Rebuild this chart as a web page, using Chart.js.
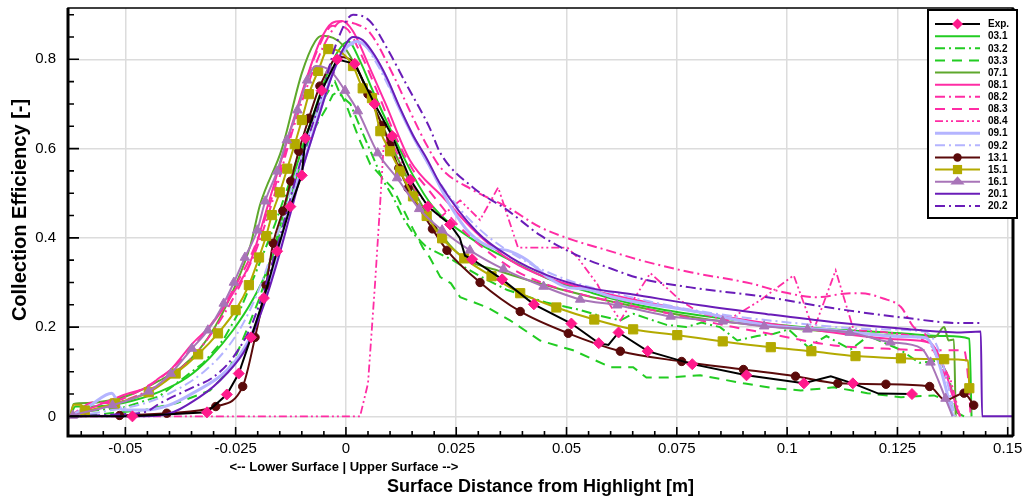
<!DOCTYPE html>
<html>
<head>
<meta charset="utf-8">
<script src="https://cdn.jsdelivr.net/npm/chart.js@4.4.1/dist/chart.umd.min.js"></script>
<style>
  html, body { margin: 0; padding: 0; background: #fff; }
</style>
</head>
<body>
<canvas id="chart" width="1026" height="498"></canvas>
<script>
// =============================
// DATA  (x = surface distance [m], y = collection efficiency)
// =============================
const xTicks = [-0.05, -0.025, 0, 0.025, 0.05, 0.075, 0.1, 0.125, 0.15];
const xTickLabels = ["-0.05", "-0.025", "0", "0.025", "0.05", "0.075", "0.1", "0.125", "0.15"];
const yTicks = [0, 0.2, 0.4, 0.6, 0.8];
const yTickLabels = ["0", "0.2", "0.4", "0.6", "0.8"];

const seriesLabels = ["Exp.", "03.1", "03.2", "03.3", "07.1", "08.1", "08.2", "08.3", "08.4",
                      "09.1", "09.2", "13.1", "15.1", "16.1", "20.1", "20.2"];

// third value = 1 where a marker is drawn
const expPts = [[-0.0625,0,0],[-0.0484,0,1],[-0.0315,0.009,1],[-0.027,0.049,1],[-0.0243,0.096,1],
  [-0.0215,0.177,1],[-0.0186,0.265,1],[-0.0156,0.37,1],[-0.0126,0.47,1],[-0.01,0.54,1],[-0.0092,0.623,1],
  [-0.0055,0.73,1],[-0.002,0.80,1],[0.002,0.79,1],[0.0065,0.70,1],[0.0105,0.628,1],[0.0146,0.53,1],
  [0.0186,0.47,1],[0.0236,0.43,1],[0.0258,0.40,0],[0.027,0.36,0],[0.0286,0.352,1],[0.032,0.33,0],
  [0.0354,0.307,1],[0.0426,0.251,1],[0.0511,0.208,1],[0.0573,0.164,1],[0.0595,0.16,0],[0.0618,0.188,1],
  [0.0684,0.146,1],[0.0785,0.117,1],[0.0908,0.092,1],[0.1038,0.074,1],[0.1099,0.09,0],[0.1149,0.074,1],
  [0.1207,0.051,0],[0.1283,0.05,1]];

const s031 = [[-0.0625,0],[-0.0613,0.022],[-0.058,0.022],[-0.0505,0.03],[-0.0423,0.055],[-0.036,0.087],
  [-0.0308,0.132],[-0.0256,0.193],[-0.0212,0.26],[-0.0179,0.327],[-0.0151,0.42],[-0.0127,0.511],
  [-0.0082,0.652],[-0.0043,0.765],[-0.0018,0.818],[0.0005,0.84],[0.0032,0.796],[0.0061,0.729],
  [0.0107,0.63],[0.0152,0.54],[0.0197,0.47],[0.028,0.401],[0.0372,0.35],[0.0457,0.309],[0.056,0.276],
  [0.066,0.25],[0.0803,0.226],[0.1031,0.2],[0.1258,0.186],[0.1361,0.18],[0.1413,0.174],[0.1418,0]];

const s032 = [[-0.0625,0],[-0.0604,0.01],[-0.0504,0.02],[-0.0423,0.045],[-0.0324,0.119],[-0.0279,0.17],
  [-0.024,0.238],[-0.0201,0.33],[-0.0161,0.43],[-0.0126,0.53],[-0.0098,0.617],[-0.0059,0.697],
  [-0.0036,0.735],[-0.0025,0.75],[-0.0012,0.72],[0.001,0.7],[0.004,0.63],[0.0084,0.529],[0.0107,0.491],
  [0.0129,0.446],[0.0152,0.41],[0.0183,0.379],[0.0242,0.35],[0.0302,0.315],[0.0366,0.283],[0.0454,0.255],
  [0.0524,0.24],[0.0577,0.225],[0.0622,0.215],[0.0651,0.23],[0.0681,0.22],[0.0727,0.205],[0.0771,0.2],
  [0.0806,0.21],[0.0848,0.2],[0.0887,0.17],[0.0932,0.18],[0.097,0.185],[0.1003,0.195],[0.1048,0.155],
  [0.1089,0.18],[0.1144,0.15],[0.1184,0.18],[0.122,0.165],[0.1255,0.15],[0.13,0.12],[0.1346,0.125],
  [0.1366,0.09],[0.1386,0]];

const s033 = [[-0.0625,0],[-0.0554,0.005],[-0.0454,0.015],[-0.0383,0.03],[-0.0308,0.058],[-0.0272,0.095],
  [-0.0247,0.141],[-0.0222,0.2],[-0.0195,0.267],[-0.0166,0.36],[-0.0146,0.42],[-0.0111,0.54],[-0.008,0.63],
  [-0.0045,0.69],[-0.003,0.72],[-0.0015,0.73],[0.0,0.7],[0.0015,0.66],[0.0032,0.617],[0.0055,0.565],
  [0.0078,0.54],[0.0107,0.51],[0.0129,0.466],[0.0152,0.42],[0.0175,0.377],[0.019,0.356],[0.0214,0.312],
  [0.0238,0.298],[0.0259,0.267],[0.0321,0.244],[0.0372,0.215],[0.044,0.17],[0.0515,0.148],[0.06,0.11],
  [0.0651,0.11],[0.0681,0.087],[0.0727,0.087],[0.0803,0.092],[0.0901,0.074],[0.097,0.063],[0.1031,0.058],
  [0.1106,0.065],[0.1182,0.052],[0.1258,0.043],[0.1333,0.047],[0.136,0.036],[0.1387,0.007],[0.1401,0]];

const s071 = [[-0.0625,0],[-0.0617,0.028],[-0.0585,0.03],[-0.054,0.035],[-0.0484,0.05],[-0.0423,0.08],
  [-0.0373,0.11],[-0.0332,0.15],[-0.0297,0.2],[-0.0252,0.29],[-0.0216,0.385],[-0.0195,0.473],[-0.0145,0.6],
  [-0.01,0.769],[-0.007,0.84],[-0.0054,0.853],[-0.0029,0.848],[-0.0007,0.832],[0.003,0.77],[0.007,0.68],
  [0.0121,0.57],[0.0186,0.45],[0.0259,0.361],[0.035,0.325],[0.0486,0.285],[0.0622,0.253],[0.0803,0.22],
  [0.1031,0.195],[0.1258,0.18],[0.1335,0.178],[0.1356,0.2],[0.1366,0.17],[0.1378,0.172],[0.1382,0]];

const s081 = [[-0.0625,0],[-0.0574,0.02],[-0.0497,0.05],[-0.0451,0.065],[-0.0422,0.087],[-0.0399,0.103],
  [-0.0347,0.164],[-0.0302,0.209],[-0.0256,0.276],[-0.0218,0.343],[-0.0179,0.466],[-0.015,0.563],
  [-0.012,0.661],[-0.0089,0.758],[-0.0059,0.84],[-0.0032,0.881],[-0.0009,0.886],[0.0016,0.863],[0.005,0.79],
  [0.009,0.7],[0.0145,0.574],[0.022,0.491],[0.0297,0.41],[0.0372,0.35],[0.0457,0.31],[0.056,0.282],
  [0.066,0.26],[0.0803,0.233],[0.1031,0.198],[0.1258,0.172],[0.1325,0.164],[0.1349,0.126],[0.1387,0.013],
  [0.1392,0]];

const s082 = [[-0.0625,0],[-0.0554,0.02],[-0.0454,0.055],[-0.0383,0.1],[-0.0332,0.15],[-0.0282,0.22],
  [-0.0242,0.29],[-0.0201,0.38],[-0.0161,0.5],[-0.0121,0.64],[-0.008,0.76],[-0.004,0.85],[-0.001,0.885],
  [0.002,0.88],[0.0054,0.86],[0.0107,0.765],[0.0145,0.684],[0.0183,0.608],[0.0214,0.558],[0.0288,0.507],
  [0.0366,0.469],[0.044,0.424],[0.0515,0.395],[0.0593,0.372],[0.0667,0.35],[0.0781,0.323],[0.0917,0.298],
  [0.0992,0.278],[0.1069,0.267],[0.1129,0.275],[0.1167,0.276],[0.1218,0.264],[0.1258,0.245],[0.1287,0.2],
  [0.131,0.188],[0.1332,0.148],[0.1365,0.074],[0.1387,0.013],[0.1392,0]];

const s083 = [[-0.0625,0],[-0.0604,0.015],[-0.0574,0.031],[-0.0544,0.03],[-0.0474,0.055],[-0.0403,0.1],
  [-0.0343,0.16],[-0.0292,0.225],[-0.0252,0.29],[-0.0211,0.37],[-0.0171,0.48],[-0.0136,0.6],[-0.01,0.72],
  [-0.0065,0.82],[-0.003,0.875],[0.0,0.87],[0.003,0.82],[0.007,0.73],[0.0116,0.62],[0.0152,0.552],
  [0.0183,0.513],[0.0252,0.43],[0.0372,0.334],[0.0448,0.298],[0.056,0.267],[0.0729,0.231],[0.0879,0.2],
  [0.0955,0.186],[0.1106,0.159],[0.1218,0.152],[0.1333,0.148],[0.1401,0.148],[0.1412,0.065],[0.1416,0]];

const s084 = [[-0.0628,0],[0.0032,0],[0.005,0.074],[0.0066,0.298],[0.0078,0.484],[0.0085,0.6],[0.0096,0.63],
  [0.0121,0.58],[0.0161,0.5],[0.0214,0.446],[0.0259,0.484],[0.0304,0.44],[0.0345,0.513],[0.039,0.378],
  [0.0462,0.378],[0.0502,0.378],[0.0524,0.357],[0.057,0.296],[0.0578,0.28],[0.0622,0.215],[0.069,0.321],
  [0.0758,0.26],[0.0803,0.231],[0.0865,0.215],[0.0939,0.26],[0.1015,0.316],[0.106,0.193],[0.111,0.327],
  [0.1151,0.193],[0.121,0.19],[0.129,0.18],[0.1331,0.16],[0.1371,0.08],[0.1392,0]];

const s091 = [[-0.0625,0],[-0.0579,0.025],[-0.0531,0.052],[-0.0507,0.015],[-0.0454,0.014],[-0.0401,0.025],
  [-0.0347,0.052],[-0.027,0.103],[-0.0224,0.164],[-0.0195,0.231],[-0.0166,0.33],[-0.0131,0.46],[-0.0095,0.57],
  [-0.006,0.68],[-0.003,0.77],[0.0,0.825],[0.0025,0.84],[0.005,0.825],[0.0086,0.77],[0.0121,0.69],
  [0.0156,0.62],[0.019,0.56],[0.0236,0.473],[0.0281,0.41],[0.0333,0.377],[0.0366,0.372],[0.0411,0.35],
  [0.0457,0.312],[0.0502,0.289],[0.0547,0.285],[0.0606,0.267],[0.0803,0.233],[0.0955,0.204],[0.1106,0.193],
  [0.1258,0.179],[0.1314,0.176],[0.1339,0.135],[0.1376,0]];

const s092 = [[-0.0625,0],[-0.0554,0.01],[-0.0454,0.03],[-0.0383,0.06],[-0.0322,0.1],[-0.0272,0.15],
  [-0.0232,0.21],[-0.0191,0.3],[-0.0151,0.42],[-0.0111,0.55],[-0.007,0.67],[-0.003,0.78],[0.0005,0.83],
  [0.0035,0.835],[0.007,0.79],[0.0111,0.71],[0.0161,0.61],[0.0222,0.51],[0.0302,0.42],[0.0403,0.35],
  [0.0504,0.305],[0.0655,0.265],[0.0806,0.235],[0.1008,0.21],[0.121,0.195],[0.131,0.19],[0.1343,0.15],
  [0.1381,0]];

const s131 = [[-0.0615,0,0],[-0.0513,0.002,1],[-0.0406,0.007,1],[-0.0295,0.022,1],[-0.0234,0.067,1],
  [-0.0206,0.177,1],[-0.0181,0.294,1],[-0.0165,0.388,1],[-0.0143,0.46,1],[-0.0125,0.527,1],[-0.0107,0.594,1],
  [-0.0084,0.668,1],[-0.0059,0.74,1],[-0.0015,0.805,0],[0.002,0.79,0],[0.005,0.722,1],[0.0082,0.652,1],
  [0.01,0.608,1],[0.012,0.556,1],[0.0141,0.511,1],[0.0196,0.42,1],[0.0229,0.372,1],[0.0304,0.30,1],
  [0.0395,0.235,1],[0.0504,0.186,1],[0.0622,0.146,1],[0.0761,0.123,1],[0.0901,0.105,1],[0.1019,0.09,1],
  [0.1115,0.074,1],[0.1224,0.072,1],[0.1323,0.067,1],[0.1359,0.036,0],[0.1401,0.052,1],[0.1423,0.025,1]];

const s151 = [[-0.0625,0,0],[-0.0617,0.026,0],[-0.06,0.026,0],[-0.0592,0.013,1],[-0.0524,0.029,1],
  [-0.0447,0.054,1],[-0.0386,0.096,1],[-0.0335,0.139,1],[-0.029,0.186,1],[-0.025,0.238,1],[-0.022,0.294,1],
  [-0.0197,0.356,1],[-0.0181,0.404,1],[-0.0168,0.451,1],[-0.015,0.502,1],[-0.0133,0.555,1],[-0.0116,0.61,1],
  [-0.01,0.664,1],[-0.0084,0.722,1],[-0.0063,0.774,1],[-0.004,0.823,1],[-0.001,0.815,0],[0.0016,0.785,1],
  [0.0038,0.735,1],[0.0059,0.713,1],[0.0078,0.639,1],[0.01,0.594,1],[0.0123,0.549,1],[0.0152,0.493,1],
  [0.0183,0.449,1],[0.0218,0.399,1],[0.0268,0.354,1],[0.033,0.314,1],[0.0395,0.276,1],[0.0477,0.244,1],
  [0.0563,0.217,1],[0.0651,0.195,1],[0.0751,0.182,1],[0.0854,0.168,1],[0.0963,0.155,1],[0.1055,0.146,1],
  [0.1155,0.135,1],[0.1258,0.13,1],[0.1356,0.128,1],[0.141,0.125,0],[0.1413,0.063,1]];

const s161 = [[-0.0625,0,0],[-0.0619,0.002,1],[-0.0529,0.025,1],[-0.0447,0.056,1],[-0.0397,0.096,1],
  [-0.0349,0.152,1],[-0.0313,0.193,1],[-0.0277,0.253,1],[-0.0254,0.30,1],[-0.0229,0.356,1],[-0.0201,0.417,1],
  [-0.0183,0.482,1],[-0.0156,0.549,1],[-0.0134,0.619,1],[-0.011,0.686,1],[-0.0088,0.753,1],[-0.0068,0.785,0],
  [-0.0036,0.775,1],[-0.0002,0.73,1],[0.0027,0.684,1],[0.0072,0.59,1],[0.0116,0.534,1],[0.0166,0.465,1],
  [0.0218,0.417,1],[0.0281,0.372,1],[0.0357,0.33,1],[0.0448,0.291,1],[0.0531,0.262,1],[0.0615,0.249,1],
  [0.0736,0.224,1],[0.0854,0.213,1],[0.0948,0.202,1],[0.1046,0.195,1],[0.1142,0.188,1],[0.1234,0.166,1],
  [0.1305,0.152,0],[0.1325,0.121,1],[0.1359,0.04,1],[0.1375,0,0]];

const s201 = [[-0.0625,0],[-0.0504,0.0],[-0.0422,0.002],[-0.0332,0.043],[-0.027,0.096],[-0.0225,0.155],
  [-0.0188,0.244],[-0.0156,0.345],[-0.0127,0.45],[-0.0098,0.556],[-0.0065,0.661],[-0.0036,0.751],
  [-0.0009,0.818],[0.0016,0.85],[0.0038,0.843],[0.0065,0.809],[0.0093,0.758],[0.0123,0.69],[0.0152,0.63],
  [0.0183,0.578],[0.0214,0.52],[0.0297,0.413],[0.0372,0.357],[0.0457,0.316],[0.0547,0.289],[0.0651,0.273],
  [0.0803,0.249],[0.0955,0.229],[0.1106,0.211],[0.1258,0.197],[0.1394,0.188],[0.1439,0.19],[0.1442,0],
  [0.1512,0]];

const s202 = [[-0.0625,0],[-0.0504,0.005],[-0.0454,0.01],[-0.0422,0.029],[-0.0347,0.065],[-0.0302,0.087],
  [-0.0256,0.132],[-0.0212,0.209],[-0.0156,0.38],[-0.0105,0.563],[-0.0059,0.706],[-0.002,0.84],[0.0016,0.9],
  [0.0054,0.886],[0.0093,0.825],[0.0138,0.742],[0.019,0.646],[0.0214,0.59],[0.0288,0.513],[0.0366,0.462],
  [0.044,0.406],[0.0515,0.365],[0.0593,0.334],[0.0667,0.309],[0.0781,0.289],[0.0955,0.267],[0.1106,0.242],
  [0.1258,0.222],[0.1394,0.209],[0.1439,0.209]];

// =============================
// STYLES
// =============================
const FONT = "'Liberation Sans', Arial, Helvetica, sans-serif";
const GREEN = "#22cc22", OLIVEGREEN = "#5ea82c", PINK = "#ff2ca4", LAV = "#b4b4ff",
      MAROON = "#5a0a0a", OLIVE = "#b3aa00", MAUVE = "#a874b8", PURPLE = "#6a1cb8";
const DASHDOT = [10, 4, 2, 4], DASHED = [10, 7], DASHDOTDOT = [8, 3, 2, 3, 2, 3];

function line(label, pts, color, dash, opts) {
  return Object.assign({
    label,
    data: pts.map(p => ({ x: p[0], y: p[1] })),
    showLine: true,
    fill: false,
    borderColor: color,
    backgroundColor: color,
    borderWidth: 2,
    borderDash: dash || [],
    pointRadius: 0,
    pointHoverRadius: 0,
    cubicInterpolationMode: "monotone",
    marker: null
  }, opts || {});
}

function withMarkers(pts, style, r, color) {
  return {
    pointStyle: style,
    pointRadius: c => (pts[c.dataIndex] && pts[c.dataIndex][2] ? r : 0),
    pointBackgroundColor: color,
    pointBorderColor: color,
    pointBorderWidth: 1,
    marker: { style, r, color }
  };
}

const datasets = [
  line(seriesLabels[0], expPts, "#000", null,
       Object.assign({ tension: 0, cubicInterpolationMode: "default" }, withMarkers(expPts, "rectRot", 5.5, "#ff1a8c"))),
  line(seriesLabels[1], s031, GREEN),
  line(seriesLabels[2], s032, GREEN, DASHDOT, { tension: 0, cubicInterpolationMode: "default" }),
  line(seriesLabels[3], s033, GREEN, DASHED, { tension: 0, cubicInterpolationMode: "default" }),
  line(seriesLabels[4], s071, OLIVEGREEN),
  line(seriesLabels[5], s081, PINK),
  line(seriesLabels[6], s082, PINK, DASHDOT),
  line(seriesLabels[7], s083, PINK, DASHED),
  line(seriesLabels[8], s084, PINK, DASHDOTDOT, { tension: 0, cubicInterpolationMode: "default", borderWidth: 1.8 }),
  line(seriesLabels[9], s091, LAV, null, { borderWidth: 3 }),
  line(seriesLabels[10], s092, LAV, DASHDOT),
  line(seriesLabels[11], s131, MAROON, null, withMarkers(s131, "circle", 4.2, MAROON)),
  line(seriesLabels[12], s151, OLIVE, null, withMarkers(s151, "rect", 6.5, OLIVE)),
  line(seriesLabels[13], s161, MAUVE, null, withMarkers(s161, "triangle", 5.5, MAUVE)),
  line(seriesLabels[14], s201, PURPLE),
  line(seriesLabels[15], s202, PURPLE, DASHDOT)
];
// later series on top, Exp. above everything
datasets.forEach((d, i) => { d.order = i === 0 ? 0 : 40 - i; });

// =============================
// PLUGINS (frame, inward ticks, texts, legend)
// =============================
function drawMarker(ctx, m, x, y) {
  ctx.fillStyle = m.color;
  ctx.beginPath();
  if (m.style === "circle") {
    ctx.arc(x, y, m.r, 0, Math.PI * 2);
  } else if (m.style === "rect") {
    const s = m.r * Math.SQRT1_2;
    ctx.rect(x - s, y - s, 2 * s, 2 * s);
  } else if (m.style === "rectRot") {
    ctx.moveTo(x, y - m.r); ctx.lineTo(x + m.r, y); ctx.lineTo(x, y + m.r); ctx.lineTo(x - m.r, y);
    ctx.closePath();
  } else if (m.style === "triangle") {
    const h = m.r * 1.5, w = m.r * 1.3;
    ctx.moveTo(x, y - m.r); ctx.lineTo(x + w, y + h - m.r); ctx.lineTo(x - w, y + h - m.r);
    ctx.closePath();
  }
  ctx.fill();
}

const decorations = {
  id: "decorations",
  afterDatasetsDraw(chart) {
    const { ctx, chartArea: a, scales: { x, y } } = chart;
    ctx.save();
    ctx.strokeStyle = "#000";
    ctx.lineWidth = 1.6;
    ctx.beginPath();
    for (let i = -12; i <= 30; i++) {
      const px = x.getPixelForValue(i * 0.005);
      const len = i % 5 === 0 ? 9 : 5;
      ctx.moveTo(px, a.bottom);
      ctx.lineTo(px, a.bottom - len);
    }
    for (let i = 0; i <= 18; i++) {
      const py = y.getPixelForValue(i * 0.05);
      const len = i % 4 === 0 ? 11 : 6;
      ctx.moveTo(a.left, py);
      ctx.lineTo(a.left + len, py);
    }
    ctx.stroke();

    // frame
    ctx.lineWidth = 1.5;
    ctx.strokeRect(a.left, a.top, a.right - a.left, a.bottom - a.top);
    ctx.lineWidth = 3;
    ctx.beginPath();
    ctx.moveTo(a.left, a.top); ctx.lineTo(a.left, a.bottom); ctx.lineTo(a.right, a.bottom);
    ctx.moveTo(a.right, a.top); ctx.lineTo(a.right, a.bottom);
    ctx.stroke();
    ctx.restore();
  },
  afterDraw(chart) {
    const { ctx, chartArea: a, scales: { x } } = chart;
    ctx.save();
    ctx.fillStyle = "#000";
    ctx.textAlign = "center";
    ctx.textBaseline = "middle";

    // y axis title
    ctx.save();
    ctx.translate(20, 210);
    ctx.rotate(-Math.PI / 2);
    ctx.font = "bold 20px " + FONT;
    ctx.fillText("Collection Efficiency [-]", 0, 0);
    ctx.restore();

    // surface side note under the axis
    ctx.font = "bold 13px " + FONT;
    ctx.fillText("<-- Lower Surface | Upper Surface -->", x.getPixelForValue(0) - 2, a.bottom + 31);

    // legend box
    const bx = 928, by = 10, bw = 89, bh = 208;
    ctx.fillStyle = "#fff";
    ctx.fillRect(bx, by, bw, bh);
    ctx.strokeStyle = "#000";
    ctx.lineWidth = 2;
    ctx.strokeRect(bx, by, bw, bh);
    ctx.font = "bold 10px " + FONT;
    ctx.textAlign = "left";
    chart.data.datasets.forEach((d, i) => {
      const ry = by + 14 + i * 12.13;
      ctx.strokeStyle = d.borderColor;
      ctx.lineWidth = d.borderWidth;
      ctx.setLineDash(d.borderDash);
      ctx.beginPath();
      ctx.moveTo(935, ry);
      ctx.lineTo(980, ry);
      ctx.stroke();
      ctx.setLineDash([]);
      if (d.marker) drawMarker(ctx, d.marker, 957.5, ry);
      ctx.fillStyle = "#000";
      ctx.fillText(d.label, 988, ry + 0.5);
    });
    ctx.restore();
  }
};

// =============================
// CHART
// =============================
new Chart(document.getElementById("chart"), {
  type: "scatter",
  data: { datasets },
  options: {
    responsive: false,
    animation: false,
    events: [],
    layout: { padding: { left: 10, top: 8, right: 13, bottom: 0 } },
    plugins: {
      legend: { display: false },
      tooltip: { enabled: false }
    },
    scales: {
      x: {
        type: "linear",
        min: -0.063,
        max: 0.1512,
        afterBuildTicks: s => { s.ticks = xTicks.map(v => ({ value: v })); },
        afterFit: s => { s.height = 62; s.paddingLeft = 0; s.paddingRight = 0; },
        ticks: {
          autoSkip: false,
          maxRotation: 0,
          padding: 4,
          color: "#000",
          font: { family: FONT, size: 15 },
          callback: v => xTickLabels[xTicks.indexOf(v)]
        },
        grid: { color: "#dcdcdc", lineWidth: 1.5, drawTicks: false },
        border: { display: false },
        title: {
          display: true,
          text: "Surface Distance from Highlight [m]",
          color: "#000",
          padding: 0,
          font: { family: FONT, size: 18, weight: "bold" }
        }
      },
      y: {
        type: "linear",
        min: -0.044,
        max: 0.915,
        afterBuildTicks: s => { s.ticks = yTicks.map(v => ({ value: v })); },
        afterFit: s => { s.width = 58; s.paddingTop = 0; s.paddingBottom = 0; },
        ticks: {
          autoSkip: false,
          padding: 12,
          color: "#000",
          font: { family: FONT, size: 15 },
          callback: v => yTickLabels[yTicks.indexOf(v)]
        },
        grid: { color: "#dcdcdc", lineWidth: 1.5, drawTicks: false },
        border: { display: false }
      }
    }
  },
  plugins: [decorations]
});
</script>
</body>
</html>
